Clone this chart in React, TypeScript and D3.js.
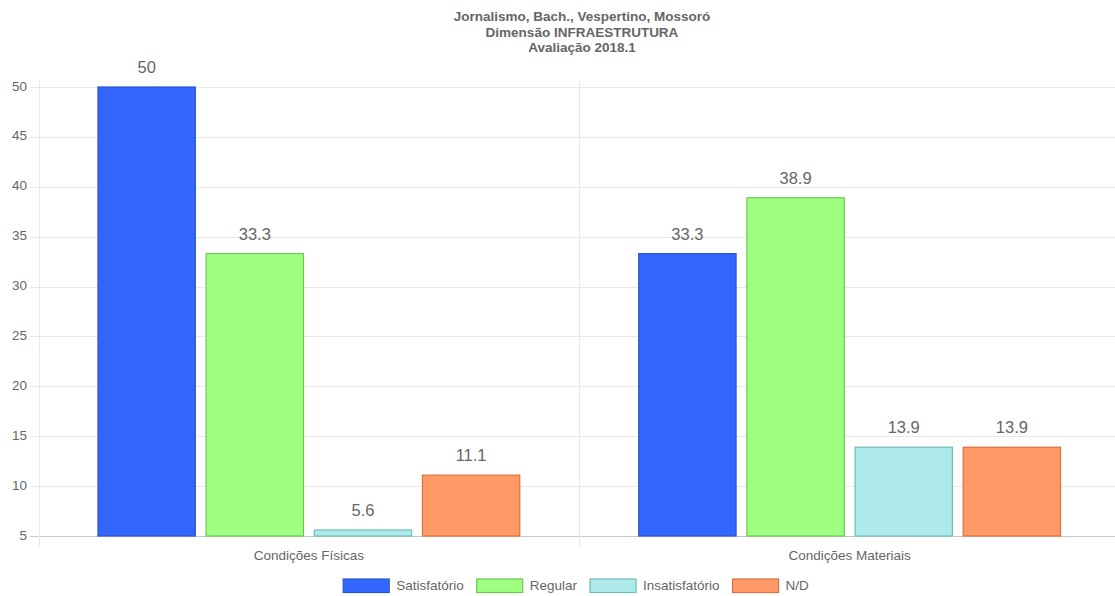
import React from "react";
import * as d3 from "d3";

const titleLines = ["Jornalismo, Bach., Vespertino, Mossoró", "Dimensão INFRAESTRUTURA", "Avaliação 2018.1"];
const categories = ["Condições Físicas", "Condições Materiais"];
const seriesNames = ["Satisfatório", "Regular", "Insatisfatório", "N/D"];
const satisfatorio = [50, 33.3];
const regular = [33.3, 38.9];
const insatisfatorio = [5.6, 13.9];
const nd = [11.1, 13.9];
const yTicks = [5, 10, 15, 20, 25, 30, 35, 40, 45, 50];

const fills = ["#3366ff", "#9fff80", "#aeeaea", "#ff9966"];
const strokes = ["#2a55cc", "#6cc94f", "#6fbcbc", "#d9703f"];

const W = 1115;
const H = 596;
const FONT = "'Liberation Sans', Arial, Helvetica, sans-serif";
const TXT = "#666";

function measure(text: string, font: string): number {
  const c = document.createElement("canvas").getContext("2d");
  if (!c) return text.length * 7;
  c.font = font;
  return c.measureText(text).width;
}

export default function App() {
  const values = [satisfatorio, regular, insatisfatorio, nd];
  const x0 = d3.scaleBand<string>().domain(categories).range([38.5, 1120]).paddingInner(0).paddingOuter(0);
  const y = d3.scaleLinear().domain([5, 50]).range([536, 87]);
  const inner = d3.scaleBand<string>().domain(seriesNames).range([0, x0.bandwidth() * 0.8]);
  const barW = inner.bandwidth() * 0.9;

  // legend layout
  const lf = 13.5;
  const boxW = 46;
  const pad = 13;
  const widths = seriesNames.map((s) => boxW + 7 + measure(s, `${lf}px 'Liberation Sans'`));
  const total = widths.reduce((a, b) => a + b, 0) + pad * (widths.length - 1);
  let lx = 576 - total / 2;
  const legendPos = widths.map((w) => {
    const p = lx;
    lx += w + pad;
    return p;
  });

  const gridX0 = 30;
  return (
    <svg width={W} height={H} style={{ position: "absolute", left: 0, top: 0, background: "#fff" }} fontFamily={FONT}>
      {titleLines.map((t, i) => (
        <text key={i} x={582} y={21 + i * 15.5} textAnchor="middle" fontSize={13.5} fontWeight="bold" fill={TXT}>
          {t}
        </text>
      ))}
      {/* horizontal gridlines */}
      {yTicks.map((t) => (
        <g key={t}>
          <line x1={gridX0} x2={W} y1={Math.round(y(t)) + 0.5} y2={Math.round(y(t)) + 0.5}
            stroke={t === 5 ? "#c8c8c8" : "#e8e8e8"} strokeWidth={1} />
          <text x={27} y={y(t)} textAnchor="end" dominantBaseline="middle" fontSize={13.5} fill={TXT}>
            {t}
          </text>
        </g>
      ))}
      {/* vertical gridlines */}
      {[0, 1, 2].map((i) => {
        const xv = Math.round(38.5 + i * x0.bandwidth()) + 0.5;
        return <line key={i} x1={xv} x2={xv} y1={80} y2={546} stroke="#e8e8e8" strokeWidth={1} />;
      })}
      {/* bars */}
      {categories.map((c, ci) => (
        <g key={c}>
          {seriesNames.map((s, si) => {
            const bx = (x0(c) as number) + x0.bandwidth() * 0.1 + (inner(s) as number) + (inner.bandwidth() - barW) / 2;
            const v = values[si][ci];
            const top = y(v);
            return (
              <g key={s}>
                <rect x={bx} y={top} width={barW} height={y(5) - top} fill={fills[si]} stroke={strokes[si]} strokeWidth={1.2} />
                <text x={bx + barW / 2} y={top - 14} textAnchor="middle" fontSize={16.5} fill={TXT}>
                  {String(v)}
                </text>
              </g>
            );
          })}
          <text x={(x0(c) as number) + x0.bandwidth() / 2} y={560} textAnchor="middle" fontSize={13.5} fill={TXT}>
            {c}
          </text>
        </g>
      ))}
      {/* legend */}
      {seriesNames.map((s, i) => (
        <g key={s}>
          <rect x={legendPos[i]} y={579} width={boxW} height={lf} fill={fills[i]} stroke={strokes[i]} strokeWidth={1.2} />
          <text x={legendPos[i] + boxW + 7} y={586} dominantBaseline="middle" fontSize={lf} fill={TXT}>
            {s}
          </text>
        </g>
      ))}
    </svg>
  );
}
